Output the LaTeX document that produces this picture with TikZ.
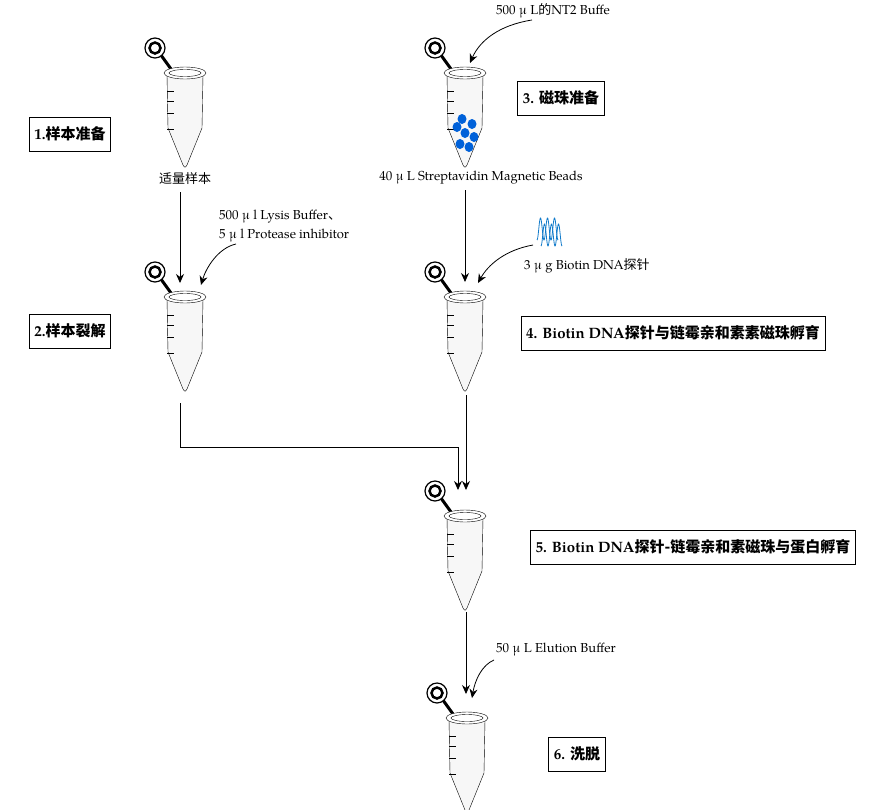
\documentclass[tikz,border=0pt]{standalone}
\usepackage{fontspec}
\setmainfont{TeX Gyre Pagella}
\newfontfamily\cjk{Noto Sans CJK SC}
\newfontfamily\cjkb{Noto Sans CJK SC Bold}
\usetikzlibrary{arrows.meta}
\begin{document}
\begin{tikzpicture}[x=1pt,y=-1pt,
 txt/.style={font=\fontsize{13}{15}\selectfont,inner sep=0},
 lbl/.style={draw,thick,font=\bfseries\fontsize{15}{17}\selectfont,inner xsep=5,minimum height=34},
 arr/.style={-{Stealth[length=9,width=8]},line width=0.8},
 pics/tube/.style={code={
   \draw[line width=3] (-27,-22) -- (-14,-4);
   \draw[line width=1.2,fill=white] (-30,-25) circle (10);
   \draw[line width=2.5] (-30,-25) circle (5.5);
   \draw[fill=gray!6] (-18,2) -- (-17,55) -- (-2,92) .. controls (0,95) .. (2,92) -- (17,55) -- (18,2) -- cycle;
   \draw[fill=white] (0,0) ellipse (21 and 6);
   \draw (0,0) ellipse (16 and 3.5);
   \foreach \yy in {18,28,40,56} \draw (-18,\yy) -- (-11,\yy);
 }}]
\useasboundingbox (0,0) rectangle (886,809);
\pic at (185,73) {tube};
\pic at (185,297) {tube};
\pic (t3) at (465,73) {tube};
\pic at (465,297) {tube};
\pic at (465,516) {tube};
\pic at (467,718) {tube};
% beads
\foreach \p in {(462,119),(472,124),(457,127),(465,133),(474,137),(460,144),(469,147)}
  \fill[blue!55!cyan!85!black] \p ellipse (4.5 and 5);
% DNA squiggle
\foreach \o in {0,4} \draw[cyan!60!blue,line width=0.8] plot[domain=0:3,samples=80] ({537+\x*7+\o},{229+\o*1.5+ 11*cos(\x*360)});
% labels
\node[lbl] (l1) at (70,134) {1.{\cjkb 样本准备}};
\node[lbl] (l3) at (561,98) {3. {\cjkb 磁珠准备}};
\node[lbl] (l2) at (70,331) {2.{\cjkb 样本裂解}};
\node[lbl] (l4) at (673,333) {4. Biotin DNA{\cjkb 探针与链霉亲和素素磁珠孵育}};
\node[lbl] (l5) at (693,547) {5. Biotin DNA{\cjkb 探针-链霉亲和素磁珠与蛋白孵育}};
\node[lbl] (l6) at (577,754) {6. {\cjkb 洗脱}};
% texts
\node[txt] (s1) at (185,179) {\cjk 适量样本};
\node[txt] (s3) at (481,178) {40 μ L Streptavidin Magnetic Beads};
\node[txt,anchor=west] (nt2) at (496,11) {500 μ L{\cjk 的}NT2 Buffe};
\node[txt,anchor=west] (ly1) at (219,217) {500 μ l Lysis Buffer{\cjk 、}};
\node[txt,anchor=west] (ly2) at (219,236) {5 μ l Protease inhibitor};
\node[txt,anchor=west] (bio) at (524,266) {3 μ g Biotin DNA{\cjk 探针}};
\node[txt,anchor=west] (el) at (496,650) {50 μ L Elution Buffer};
% arrows
\coordinate (a1) at (180,192); \coordinate (a1e) at (180,283);
\draw[arr] (a1) -- (a1e);
\coordinate (c1) at (236,244); \coordinate (c1e) at (201,285);
\draw[arr] (c1) .. controls (218,248) and (206,268) .. (c1e);
\coordinate (a3) at (465,190); \coordinate (a3e) at (465,282);
\draw[arr] (a3) -- (a3e);
\coordinate (c3) at (533,245); \coordinate (c3e) at (478,283);
\draw[arr] (c3) .. controls (505,250) and (488,265) .. (c3e);
\coordinate (c0) at (532,20); \coordinate (c0e) at (470,63);
\draw[arr] (c0) .. controls (500,25) and (480,40) .. (c0e);
\coordinate (m1) at (180,403); \coordinate (m2) at (180,447); \coordinate (m3) at (458,447); \coordinate (m4) at (458,490);
\draw[arr] (m1) -- (m2) -- (m3) -- (m4);
\coordinate (v4) at (466,395); \coordinate (v4e) at (466,490);
\draw[arr] (v4) -- (v4e);
\coordinate (v5) at (466,612); \coordinate (v5e) at (466,694);
\draw[arr] (v5) -- (v5e);
\coordinate (c5) at (494,660); \coordinate (c5e) at (472,698);
\draw[arr] (c5) .. controls (482,665) and (475,680) .. (c5e);
\end{tikzpicture}
\end{document}
